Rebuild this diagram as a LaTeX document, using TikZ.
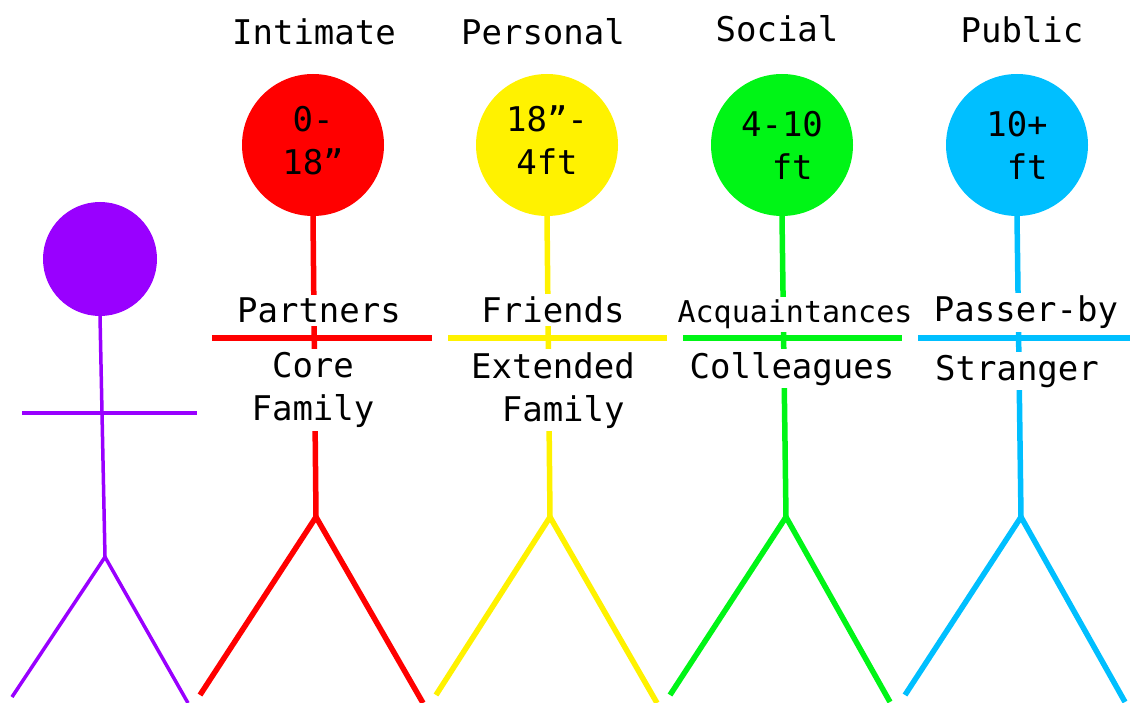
\documentclass[tikz,border=0pt]{standalone}
\usepackage{fontspec}
\setmonofont{DejaVu Sans Mono}
\definecolor{selfcol}{HTML}{9900FF}
\definecolor{intcol}{HTML}{FF0000}
\definecolor{perscol}{HTML}{FFF200}
\definecolor{soccol}{HTML}{00F516}
\definecolor{pubcol}{HTML}{00BFFF}
\begin{document}
\begin{tikzpicture}[x=1pt, y=-1pt,
  every node/.style={font=\ttfamily\fontsize{34}{43}\selectfont},
  head/.style={circle, inner sep=0pt, minimum size=142pt, align=center},
  tag/.style={fill=white, inner sep=3pt, align=center},
  limb/.style={line width=5.5pt}]
  \useasboundingbox (0,0) rectangle (1130,703);
  % the one in the middle of it all
  \node[head, fill=selfcol, minimum size=114pt] (self) at (100,259) {};
  \coordinate (selfhip) at (105,557);
  \coordinate (selfL) at (22,413); \coordinate (selfR) at (197,413);
  \coordinate (selffootL) at (12,697); \coordinate (selffootR) at (188,703);
  \draw[selfcol, line width=3.5pt] (self.south) -- (selfhip);
  \draw[selfcol, line width=3.5pt] (selfL) -- (selfR);
  \draw[selfcol, line width=3.5pt] (selffootL) -- (selfhip) -- (selffootR);

  % zone titles
  \node[anchor=base] (inttitle) at (314,45) {Intimate};
  \node[anchor=base] (perstitle) at (543,45) {Personal};
  \node[anchor=base] (soctitle) at (777,42) {Social};
  \node[anchor=base] (pubtitle) at (1022,43) {Public};

  % intimate
  \node[head, fill=intcol, text depth=10pt] (int) at (313,145) {0-\\18”};
  \coordinate (inthip) at (316,517);
  \coordinate (intL) at (212,338); \coordinate (intR) at (432,338);
  \coordinate (intfootL) at (200,695); \coordinate (intfootR) at (423,703);
  \draw[intcol, limb] (int.south) -- (inthip);
  \draw[intcol, limb] (intL) -- (intR);
  \draw[intcol, limb] (intfootL) -- (inthip) -- (intfootR);
  \node[tag, anchor=base] (partners) at (319,323) {Partners};
  \node[tag, anchor=north] (core) at (313,349) {Core\\Family};

  % personal
  \node[head, fill=perscol, text depth=10pt] (pers) at (547,145) {18”-\\4ft};
  \coordinate (pership) at (550,517);
  \coordinate (persL) at (448,338); \coordinate (persR) at (667,338);
  \coordinate (persfootL) at (436,695); \coordinate (persfootR) at (657,703);
  \draw[perscol, limb] (pers.south) -- (pership);
  \draw[perscol, limb] (persL) -- (persR);
  \draw[perscol, limb] (persfootL) -- (pership) -- (persfootR);
  \node[tag, anchor=base] (friends) at (553,323) {Friends};
  \node[tag, anchor=north] (extended) at (553,349) {Extended\\~Family};

  % social
  \node[head, fill=soccol] (soc) at (782,145) {4-10\\~ft};
  \coordinate (sochip) at (786,517);
  \coordinate (socL) at (683,338); \coordinate (socR) at (902,338);
  \coordinate (socfootL) at (670,695); \coordinate (socfootR) at (890,702);
  \draw[soccol, limb] (soc.south) -- (sochip);
  \draw[soccol, limb] (socL) -- (socR);
  \draw[soccol, limb] (socfootL) -- (sochip) -- (socfootR);
  \node[tag, anchor=base, font=\ttfamily\fontsize{30}{36}\selectfont] (acq) at (795,323) {Acquaintances};
  \node[tag, anchor=base] (colleagues) at (792,378) {Colleagues};

  % public
  \node[head, fill=pubcol] (pub) at (1017,145) {10+\\~ft};
  \coordinate (pubhip) at (1021,517);
  \coordinate (pubL) at (918,338); \coordinate (pubR) at (1130,338);
  \coordinate (pubfootL) at (905,695); \coordinate (pubfootR) at (1125,702);
  \draw[pubcol, limb] (pub.south) -- (pubhip);
  \draw[pubcol, limb] (pubL) -- (pubR);
  \draw[pubcol, limb] (pubfootL) -- (pubhip) -- (pubfootR);
  \node[tag, anchor=base] (passer) at (1026,322) {Passer-by};
  \node[tag, anchor=base] (stranger) at (1017,380) {Stranger};
\end{tikzpicture}
\end{document}
